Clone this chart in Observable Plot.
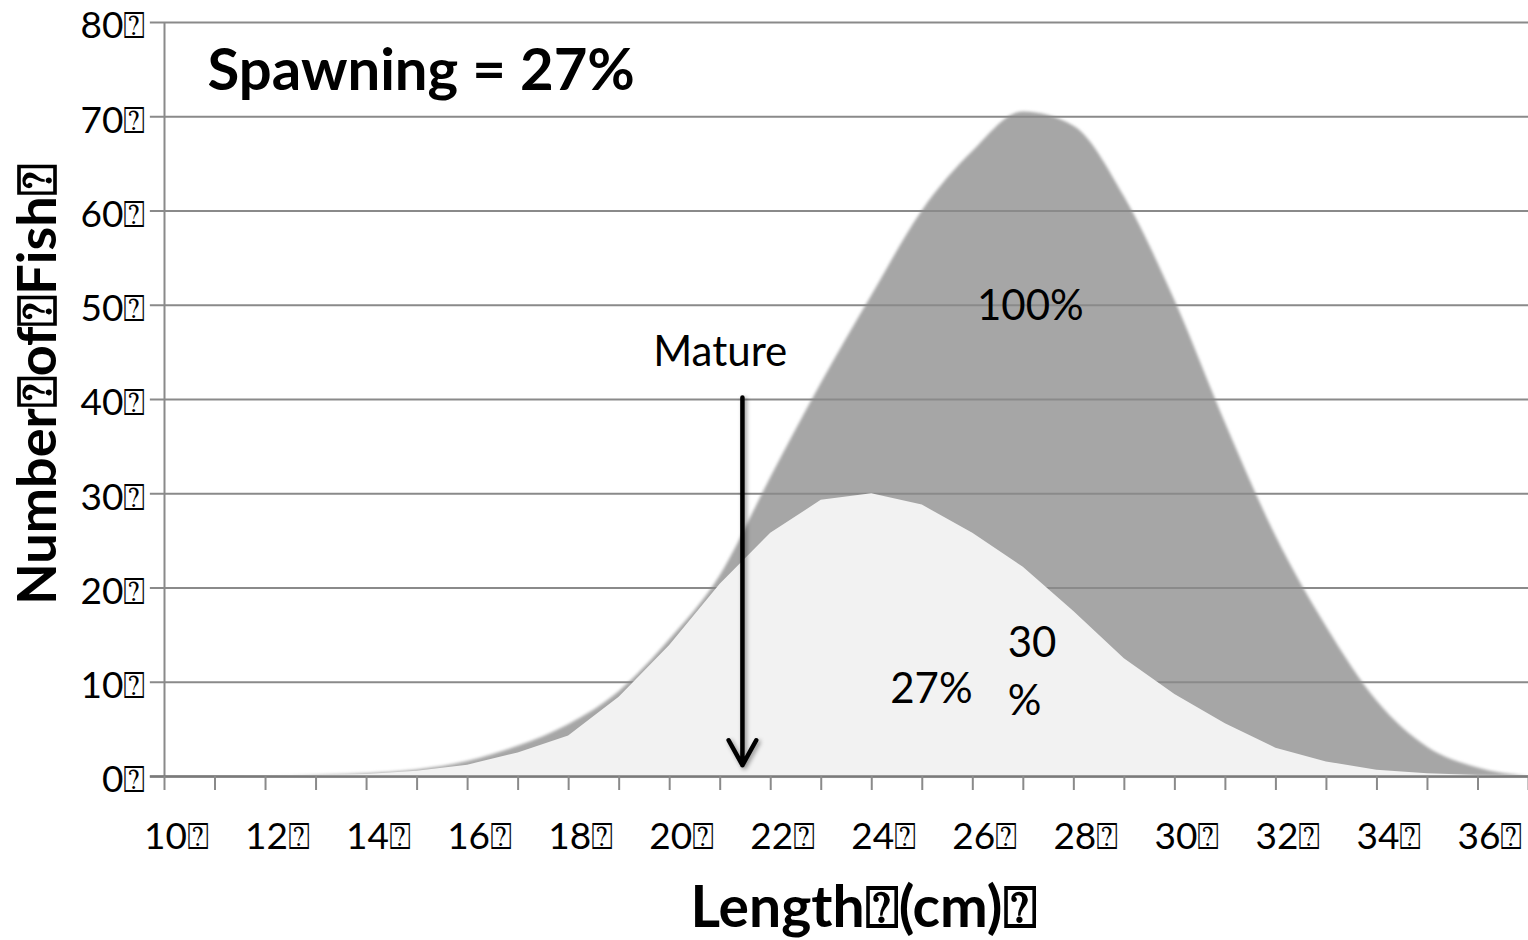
<!DOCTYPE html>
<html>
<head>
<meta charset="utf-8">
<script src="https://cdn.jsdelivr.net/npm/d3@7"></script>
<script src="https://cdn.jsdelivr.net/npm/@observablehq/plot@0.6"></script>
<style>
  html, body { margin: 0; padding: 0; background: #fff; }
  #chart svg { display: block; font-family: Lato, "Open Sans", sans-serif; }
</style>
</head>
<body>
<div id="chart"></div>
<script>
// ---- data ----
const lengthCm = [10,11,12,13,14,15,16,17,18,19,20,21,22,23,24,25,26,27,28,29,30,31,32,33,34,35,36,37];
const allFish  = [0,0,0,0.1,0.3,0.7,1.6,3.2,5.5,9,14.5,21.3,31.7,41.7,51,60,66.3,70.5,69,61.5,50.5,37.5,25.5,15.9,8.0,3.1,0.9,0];
const spawning = [0,0,0.02,0.08,0.2,0.55,1.2,2.5,4.3,8.4,13.9,20.4,25.8,29.3,30,28.8,25.8,22.2,17.5,12.5,8.7,5.6,3.0,1.55,0.65,0.3,0.1,0];
const xTickLabels = [10,12,14,16,18,20,22,24,26,28,30,32,34,36];
const yTickLabels = [0,10,20,30,40,50,60,70,80];
const box = "\u2370";
const titleText = "Spawning = 27%";
const xTitle = "Length" + box + "(cm)" + box;
const yTitle = "Number" + box + "of" + box + "Fish" + box;
const centeredNotes = [
  {x: 21.0, y: 45.0, text: "Mature"},
  {x: 27.14, y: 49.9, text: "100%"},
  {x: 25.18, y: 9.2, text: "27%"}
];
const startNotes = [
  {x: 26.69, y: 14.1, text: "30"},
  {x: 26.69, y: 8.0, text: "%"}
];
const arrowData = [{x: 21.44, y1: 40.2, y2: 1.2}];

const allRows = lengthCm.map((x, i) => ({x, y: allFish[i]}));
const spawnRows = lengthCm.map((x, i) => ({x, y: spawning[i]}));

const chart = Plot.plot({
  width: 1528,
  height: 940,
  marginLeft: 164,
  marginRight: 0,
  marginTop: 22,
  marginBottom: 164,
  x: {domain: [10, 37], axis: null},
  y: {domain: [0, 80], axis: null},
  marks: [
    Plot.areaY(allRows, {x: "x", y: "y", fill: "#a6a6a6", curve: "monotone-x"}),
    Plot.ruleY(yTickLabels, {x1: 9.72, x2: 37, stroke: "#8a8a8a", strokeWidth: 2}),
    Plot.areaY(spawnRows, {x: "x", y: "y", fill: "#f2f2f2", curve: "linear"}),
    Plot.ruleX([10], {y1: 0, y2: 80, stroke: "#8a8a8a", strokeWidth: 2}),
    Plot.ruleY([0], {x1: 9.72, x2: 37, stroke: "#7a7a7a", strokeWidth: 2.5}),
    Plot.axisX({ticks: lengthCm, tickSize: 14, tickFormat: () => "", label: null, stroke: "#8a8a8a", strokeWidth: 2}),
    Plot.axisX({ticks: xTickLabels, tickSize: 0, tickPadding: 46, dx: 12, label: null, tickFormat: d => d + box, fontSize: 37, fill: "#000"}),
    Plot.axisY({ticks: yTickLabels, tickSize: 0, tickPadding: 19, dy: 4, label: null, tickFormat: d => d + box, fontSize: 37, fill: "#000"}),
    Plot.text(centeredNotes, {x: "x", y: "y", text: "text", textAnchor: "middle", fontSize: 42, fill: "#000"}),
    Plot.text(startNotes, {x: "x", y: "y", text: "text", textAnchor: "start", fontSize: 42, fill: "#000"}),
    Plot.arrow(arrowData, {x1: "x", x2: "x", y1: "y1", y2: "y2", stroke: "#000", strokeWidth: 4.5, headLength: 9.5, headAngle: 58}),
    Plot.text([titleText], {frameAnchor: "top-left", dx: 43, dy: 26, textAnchor: "start", fontSize: 58, fontWeight: "bold", fill: "#000"}),
    Plot.text([xTitle], {frameAnchor: "bottom", dx: 17, dy: 150, textAnchor: "middle", fontSize: 57, fontWeight: "bold", fill: "#000"}),
    Plot.text([yTitle], {frameAnchor: "left", dx: -126, dy: -15, textAnchor: "middle", rotate: -90, fontSize: 54, fontWeight: "bold", fill: "#000"})
  ]
});
document.getElementById("chart").append(chart);
// soft edge on the 100% area, shadow on arrow
const areas = chart.querySelectorAll('g[aria-label="area"]');
if (areas[0]) areas[0].style.filter = "blur(1.5px)";
const arrows = chart.querySelectorAll('g[aria-label="arrow"]');
if (arrows[0]) arrows[0].style.filter = "drop-shadow(2px 2px 2px rgba(0,0,0,0.4))";
</script>
</body>
</html>
